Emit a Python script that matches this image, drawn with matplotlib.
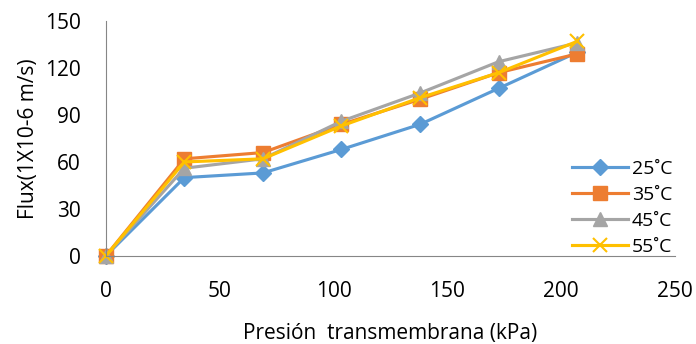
import numpy as np
import matplotlib
matplotlib.use('Agg')
import matplotlib.pyplot as plt

plt.rcParams['font.family'] = ['Open Sans', 'DejaVu Sans']

presion = [0, 34.5, 69, 103.5, 138, 172.5, 207]
flux_25 = [0, 50, 53, 68, 84, 107, 130]
flux_35 = [0, 62, 66, 84, 100, 117, 129]
flux_45 = [0, 56, 62, 86, 104, 124, 136]
flux_55 = [0, 60, 62, 83, 101, 117, 137]
labels = ['25˚C', '35˚C', '45˚C', '55˚C']

fig = plt.figure(figsize=(6.96, 3.44), dpi=100)
ax = fig.add_axes([0.152, 0.256, 0.818, 0.683])

ax.plot(presion, flux_25, color='#5B9BD5', lw=2.25, marker='D', ms=8,
        clip_on=False, label=labels[0])
ax.plot(presion, flux_35, color='#ED7D31', lw=2.25, marker='s', ms=10,
        clip_on=False, label=labels[1])
ax.plot(presion, flux_45, color='#A5A5A5', lw=2.25, marker='^', ms=10,
        clip_on=False, label=labels[2])
ax.plot(presion, flux_55, color='#FFC000', lw=2.25, marker='x', ms=10, mew=1.5,
        clip_on=False, label=labels[3])

ax.set_xlim(0, 250)
ax.set_ylim(0, 150)
ax.set_xticks(np.arange(0, 251, 50))
ax.set_yticks(np.arange(0, 151, 30))
ax.tick_params(axis='x', length=0, labelsize=15, pad=18)
ax.tick_params(axis='y', length=0, labelsize=15, pad=18)
for s in ['top', 'right']:
    ax.spines[s].set_visible(False)
for s in ['left', 'bottom']:
    ax.spines[s].set_color('#868686')
ax.set_xlabel('Presión  transmembrana (kPa)', fontsize=15, labelpad=15)
ax.set_ylabel('Flux(1X10-6 m/s)', fontsize=15, labelpad=4)

leg = ax.legend(loc='lower right', bbox_to_anchor=(0.966, 0.255),
                bbox_transform=fig.transFigure, frameon=False,
                fontsize=14, handlelength=2.9, handletextpad=0.2,
                labelspacing=0.42, borderaxespad=0.0, borderpad=0.0)

fig.savefig('out.png', dpi=100)
